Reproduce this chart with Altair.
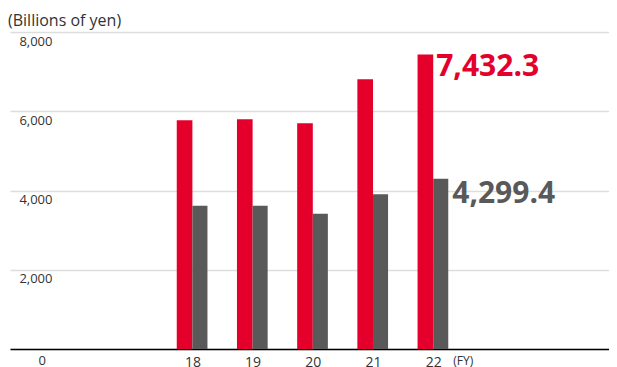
import altair as alt
import pandas as pd

years = [18, 19, 20, 21, 22]
net_sales = [5774, 5799, 5698, 6807, 7432.3]
other = [3613, 3613, 3411, 3908, 4299.4]
y_ticks = [0, 2000, 4000, 6000, 8000]

RED = "#E4002B"
GRAY = "#595959"
FONT = "Open Sans"

red_df = pd.DataFrame({"year": years, "value": net_sales})
gray_df = pd.DataFrame({"year": years, "value": other})

xscale = alt.Scale(domain=[14.97, 24.92], nice=False, zero=False)
yscale = alt.Scale(domain=[0, 8000], nice=False)

red = alt.Chart(red_df).transform_calculate(x0="datum.year - 0.26").mark_bar(color=RED).encode(
    x=alt.X("x0:Q", scale=xscale,
            axis=alt.Axis(values=years, title=None, grid=False, ticks=False, tickSize=0,
                          labelFontSize=14, labelPadding=6, labelColor="#333", labelFont=FONT,
                          domainColor="#000", domainWidth=1.5, format="d")),
    x2="year:Q",
    y=alt.Y("value:Q", scale=yscale,
            axis=alt.Axis(values=y_ticks, title=None, ticks=False, tickSize=0, domain=False,
                          labelAlign="right", labelBaseline="top", labelPadding=-42,
                          labelOffset=3, labelFontSize=13, labelColor="#333", labelFont=FONT,
                          labelExpr="datum.value == 0 ? '' : datum.label",
                          gridColor="#dddddd", gridWidth=1.5, format=",.0f")),
    y2=alt.datum(0),
)

gray = alt.Chart(gray_df).transform_calculate(x1="datum.year + 0.25").mark_bar(color=GRAY).encode(
    x="year:Q",
    x2="x1:Q",
    y="value:Q",
    y2=alt.datum(0),
)

last_red = red_df.tail(1)
last_gray = gray_df.tail(1)

red_lbl = alt.Chart(last_red).mark_text(
    align="left", baseline="alphabetic", dx=3, dy=22, fontSize=30, fontWeight="bold",
    color=RED, font=FONT
).encode(x="year:Q", y="value:Q", text=alt.Text("value:Q", format=",.1f"))

gray_lbl = alt.Chart(last_gray).transform_calculate(x1="datum.year + 0.25").mark_text(
    align="left", baseline="alphabetic", dx=4, dy=24, fontSize=30, fontWeight="bold",
    color=GRAY, font=FONT
).encode(x="x1:Q", y="value:Q", text=alt.Text("value:Q", format=",.1f"))

zero_lbl = alt.Chart(pd.DataFrame({"t": ["0"]})).mark_text(
    align="right", baseline="top", fontSize=13, color="#333", font=FONT, dy=6
).encode(x=alt.value(36), y=alt.datum(0), text="t:N")

unit = alt.Chart(pd.DataFrame({"t": ["(Billions of yen)"]})).mark_text(
    align="left", baseline="alphabetic", fontSize=16, color="#333", font=FONT
).encode(x=alt.value(-2), y=alt.value(-6), text="t:N")

fy = alt.Chart(pd.DataFrame({"t": ["(FY)"]})).mark_text(
    align="left", baseline="top", fontSize=12, color="#333", font=FONT, dx=20, dy=7
).encode(x=alt.datum(22), y=alt.datum(0), text="t:N")

chart = alt.layer(red, gray, red_lbl, gray_lbl, zero_lbl, unit, fy).properties(
    width=599, height=317,
    autosize=alt.AutoSizeParams(type="none"),
    padding={"left": 2, "top": 24, "right": 0, "bottom": 18},
).configure_view(stroke=None)

chart.save("out.html", embed_options={"renderer": "svg", "actions": False})
